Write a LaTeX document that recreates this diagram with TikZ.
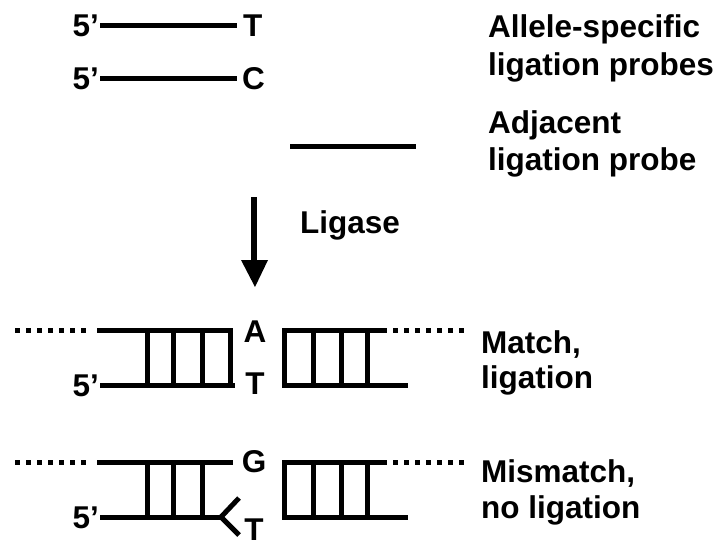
\documentclass[tikz,border=0pt]{standalone}
\usepackage{fontspec}
\setmainfont{Liberation Sans}
\begin{document}
\begin{tikzpicture}[x=1pt,y=-1pt,
  strand/.style={line width=5pt},
  dotline/.style={line width=5pt, dash pattern=on 5pt off 6pt},
  lbl/.style={inner sep=0pt, font=\bfseries\fontsize{31.5}{36}\selectfont},
  lbll/.style={lbl, anchor=base west},
  lble/.style={lbl, anchor=base east},
  lblc/.style={lbl, anchor=base},
]
\useasboundingbox (0,0) rectangle (722,544);

% ---- allele-specific probes
\coordinate (p1a) at (100,25); \coordinate (p1b) at (237,25);
\coordinate (p2a) at (100,78); \coordinate (p2b) at (237,78);
\draw[strand] (p1a) -- (p1b);
\draw[strand] (p2a) -- (p2b);
\node[lble] (p1five) at (99,36) {5’};
\node[lbll] (p1T) at (243,36) {T};
\node[lble] (p2five) at (99,89) {5’};
\node[lbll] (p2C) at (242,89) {C};

% ---- adjacent probe
\coordinate (adja) at (290,146); \coordinate (adjb) at (416,146);
\draw[strand] (adja) -- (adjb);

% ---- labels right
\node[lbll] (l1) at (488,37) {Allele-specific};
\node[lbll] (l2) at (488,75) {ligation probes};
\node[lbll] (l3) at (488,133) {Adjacent};
\node[lbll] (l4) at (488,170) {ligation probe};

% ---- arrow
\coordinate (arA) at (254,197); \coordinate (arB) at (254,262);
\draw[line width=6pt] (arA) -- (arB);
\fill (241,260) -- (268,260) -- (255,287) -- cycle;
\node[lbll] (lig) at (300,233) {Ligase};

% ---- match duplex
\draw[dotline] (15,330) -- (90,330);
\draw[strand] (97,330) -- (233,330);
\draw[strand] (100,385) -- (235,385);
\foreach \x in {147,173,202,230} \draw[strand] (\x,330) -- (\x,385);
\node[lblc] (mA) at (255,342) {A};
\node[lblc] (mT) at (255,394) {T};
\node[lble] (mfive) at (99,396) {5’};
\draw[strand] (282,330) -- (387,330);
\draw[dotline] (393,330) -- (466,330);
\draw[strand] (282,385) -- (408,385);
\foreach \x in {284,313,341,367} \draw[strand] (\x,330) -- (\x,385);
\node[lbll] (mt1) at (481,353) {Match,};
\node[lbll] (mt2) at (481,388) {ligation};

% ---- mismatch duplex
\draw[dotline] (15,462) -- (90,462);
\draw[strand] (97,462) -- (233,462);
\draw[strand] (100,517) -- (221,517);
\coordinate (fork) at (221,517);
\draw[strand] (fork) -- (239,498);
\draw[strand] (fork) -- (239,535);
\foreach \x in {147,173,202} \draw[strand] (\x,462) -- (\x,517);
\node[lblc] (xG) at (254,472) {G};
\node[lblc] (xT) at (254,540) {T};
\node[lble] (xfive) at (99,528) {5’};
\draw[strand] (282,462) -- (387,462);
\draw[dotline] (393,462) -- (466,462);
\draw[strand] (282,517) -- (408,517);
\foreach \x in {284,313,341,367} \draw[strand] (\x,462) -- (\x,517);
\node[lbll] (xt1) at (481,482) {Mismatch,};
\node[lbll] (xt2) at (481,518) {no ligation};
\end{tikzpicture}
\end{document}
